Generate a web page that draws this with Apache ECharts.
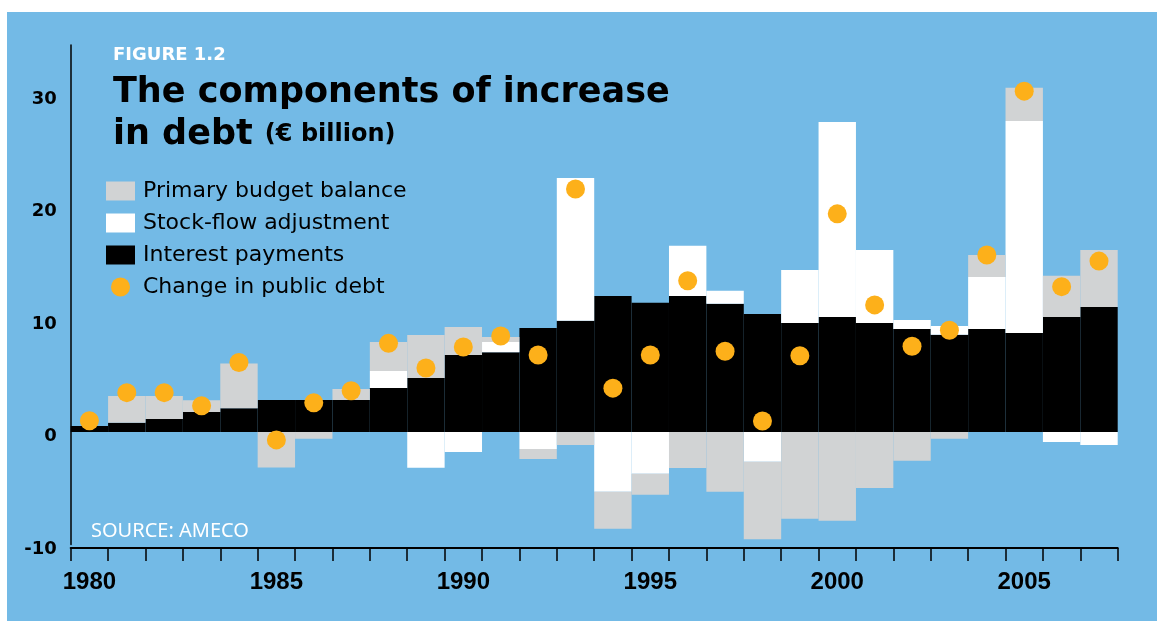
<!DOCTYPE html>
<html>
<head>
<meta charset="utf-8">
<script src="https://cdn.jsdelivr.net/npm/echarts@6/dist/echarts.min.js"></script>
<style>
html,body{margin:0;padding:0;background:#ffffff;}
#bg{position:absolute;left:7px;top:12px;right:0;bottom:0;background:#73BAE6;}
#chart{position:absolute;left:0;top:0;width:1157px;height:621px;}
</style>
</head>
<body>
<div id="bg"></div>
<div id="chart"></div>
<script>
var years = ['1980','1981','1982','1983','1984','1985','1986','1987','1988','1989','1990','1991','1992','1993','1994','1995','1996','1997','1998','1999','2000','2001','2002','2003','2004','2005','2006','2007'];
var interestPayments = [0.53,0.82,1.15,1.77,2.12,2.84,2.84,2.84,3.91,4.8,6.84,7.1,9.24,9.9,12.1,11.5,12.1,11.4,10.5,9.68,10.23,9.68,9.16,8.64,9.16,8.79,10.23,11.12];
var stockFlow = [0,0,0,0,0,0,0,0,1.51,-3.17,-1.78,0.9,-1.51,12.67,-5.3,-3.7,4.45,1.16,-2.65,4.72,17.33,6.49,0.8,0.79,4.62,18.85,-0.88,-1.16];
var primaryBalance = [0,2.38,2.05,1.06,3.98,-3.16,-0.59,0.98,2.58,3.82,2.49,0.44,-0.89,-1.16,-3.3,-1.88,-3.19,-5.3,-6.88,-7.7,-7.89,-4.98,-2.56,-0.6,1.96,2.95,3.65,5.05];
var debtChange = [1.0,3.5,3.5,2.33,6.17,-0.7,2.6,3.67,7.88,5.69,7.56,8.53,6.84,21.6,3.9,6.84,13.45,7.17,0.97,6.77,19.39,11.3,7.63,9.04,15.74,30.3,12.92,15.19];
var yTicks = [-10, 0, 10, 20, 30];

var heavy = 'DejaVu Sans';
var chart = echarts.init(document.getElementById('chart'), null, {renderer:'canvas'});
chart.setOption({
  animation: false,
  backgroundColor: 'transparent',
  title: [
    {text: 'FIGURE 1.2', left: 108, top: 41, textStyle: {color:'#ffffff', fontFamily: heavy, fontWeight: 'bold', fontSize: 18}},
    {text: 'The components of increase\nin debt {s|(€ billion)}', left: 108, top: 67,
     textStyle: {color:'#000000', fontFamily: heavy, fontWeight: 'bold', fontSize: 35, lineHeight: 42,
       rich: {s: {fontFamily: heavy, fontWeight: 'bold', fontSize: 24, color:'#000000'}}}},
    {text: 'SOURCE: AMECO', left: 86, top: 516, textStyle: {color:'#ffffff', fontFamily:'Noto Sans', fontWeight: 'normal', fontSize: 20}}
  ],
  legend: {
    orient: 'vertical', left: 101, top: 175, itemWidth: 29, itemHeight: 19, itemGap: 10,
    textStyle: {color:'#000000', fontFamily:'DejaVu Sans', fontSize: 22, padding:[0,0,0,3]},
    data: [
      {name:'Primary budget balance', icon:'rect'},
      {name:'Stock-flow adjustment', icon:'rect'},
      {name:'Interest payments', icon:'rect'},
      {name:'Change in public debt', icon:'circle'}
    ]
  },
  grid: {left: 70.7, right: 39.3, top: 45, bottom: 76.5, containLabel: false},
  xAxis: {
    type: 'category', data: years, boundaryGap: true, offset: 3.5,
    axisLine: {onZero: false, lineStyle: {color:'#000000', width: 2}},
    axisTick: {show: true, interval: 0, alignWithLabel: false, length: 13, lineStyle: {color:'#000000', width: 1.5}},
    axisLabel: {interval: function(i){ return i % 5 === 0; }, margin: 22, color:'#000000', fontFamily: 'Liberation Sans', fontWeight: 'bold', fontSize: 24},
    splitLine: {show: false}
  },
  yAxis: {
    type: 'value', min: yTicks[0], max: 34.4, interval: 10,
    axisLine: {show: true, lineStyle: {color:'#000000', width: 1.5}},
    axisTick: {show: false},
    splitLine: {show: false},
    axisLabel: {margin: 14, color:'#000000', fontFamily: heavy, fontWeight: 'bold', fontSize: 18, showMaxLabel: false,
      rich: {v: {fontFamily: heavy, fontWeight: 'bold', fontSize: 18, color:'#000000', padding:[9,0,0,0]}},
      formatter: function(v){ return yTicks.indexOf(v) >= 0 ? '{v|' + v + '}' : ''; }}
  },
  series: [
    {name:'Interest payments', type:'bar', stack:'debt', barWidth:'100%', data: interestPayments, itemStyle:{color:'#000000'}},
    {name:'Stock-flow adjustment', type:'bar', stack:'debt', barWidth:'100%', data: stockFlow, itemStyle:{color:'#ffffff'}},
    {name:'Primary budget balance', type:'bar', stack:'debt', barWidth:'100%', data: primaryBalance, itemStyle:{color:'#D1D3D4'}},
    {name:'Change in public debt', type:'scatter', symbol:'circle', symbolSize: 19, data: debtChange, itemStyle:{color:'#FDB01A', opacity:1}, z: 10}
  ]
});
</script>
</body>
</html>
